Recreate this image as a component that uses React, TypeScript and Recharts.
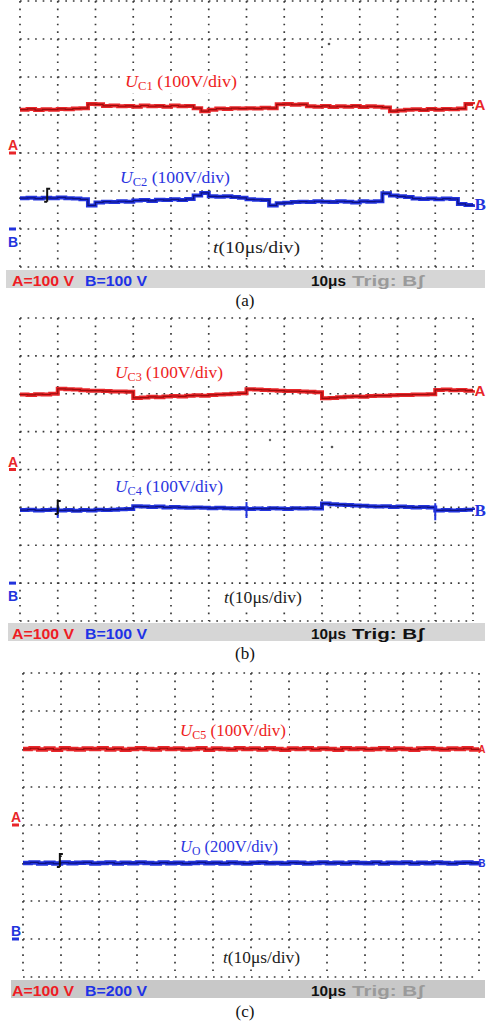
import {
  CartesianGrid,
  Line,
  LineChart,
  ReferenceDot,
  ReferenceLine,
  XAxis,
  YAxis,
} from "recharts";

// sample times in µs (12 div x 10µs)
const timeUs = [
  0, 2, 4, 6, 8, 10, 12, 14, 16, 18, 20, 22, 24, 26, 28, 30, 32, 34, 36, 38,
  40, 42, 44, 46, 48, 50, 52, 54, 56, 58, 60, 62, 64, 66, 68, 70, 72, 74, 76,
  78, 80, 82, 84, 86, 88, 90, 92, 94, 96, 98, 100, 102, 104, 106, 108, 110,
  112, 114, 116, 118, 120,
];
const xTicks = [0, 10, 20, 30, 40, 50, 60, 70, 80, 90, 100, 110, 120];

// (a) volts
const uC1 = [
  114, 116, 113, 115, 114, 116, 115, 117, 118, 129, 128, 124, 125, 123, 124,
  122, 125, 123, 124, 122, 125, 123, 124, 118, 110, 114, 117, 116, 118, 117,
  118, 117, 119, 118, 128, 129, 127, 128, 123, 122, 124, 121, 123, 122, 124,
  121, 123, 122, 120, 110, 112, 114, 115, 113, 116, 114, 116, 115, 117, 129,
  128,
];
const uC2 = [
  81, 82, 80, 82, 81, 83, 81, 80, 78, 62, 70, 72, 71, 73, 72, 75, 76, 74, 77,
  76, 78, 76, 79, 88, 95, 86, 85, 86, 84, 82, 78, 77, 76, 62, 68, 69, 71, 72,
  71, 73, 72, 71, 73, 72, 70, 73, 72, 73, 94, 88, 86, 84, 80, 79, 80, 78, 80,
  79, 66, 63, 65,
];

// (b)
const uC3 = [
  198, 197, 199, 198, 200, 213, 212, 211, 209, 208, 208, 207, 206, 206, 205,
  189, 190, 192, 191, 193, 194, 193, 195, 196, 195, 197, 198, 199, 200, 201,
  212, 211, 210, 209, 208, 207, 207, 206, 205, 204, 188, 189, 191, 192, 193,
  192, 194, 195, 195, 196, 197, 197, 198, 198, 199, 210, 211, 209, 210, 208,
  209,
];
const uC4 = [
  193, 194, 192, 193, 194, 192, 193, 191, 193, 192, 194, 193, 194, 195, 196,
  203, 202, 201, 202, 200, 201, 200, 199, 200, 199, 198, 199, 198, 197, 198,
  196, 197, 196, 198, 197, 196, 198, 197, 198, 197, 210, 208, 207, 206, 205,
  204, 203, 202, 203, 201, 202, 201, 200, 201, 200, 192, 193, 192, 193, 194,
  193,
];
const uC4Spikes = [
  { t: 10, lo: 172, hi: 206 },
  { t: 60, lo: 172, hi: 214 },
  { t: 110, lo: 166, hi: 211 },
];

// (c)
const uC5 = [
  200, 202, 199, 201, 198, 202, 200, 199, 201, 200, 202, 199, 201, 198, 200,
  202, 200, 199, 202, 200, 201, 199, 200, 202, 198, 201, 200, 199, 202, 200,
  201, 199, 202, 200, 198, 201, 200, 202, 199, 201, 200, 198, 202, 200, 201,
  199, 200, 202, 199, 201, 200, 198, 201, 202, 200, 199, 201, 200, 202, 199,
  201,
];
const uO = [
  400, 403, 398, 401, 397, 402, 399, 401, 403, 398, 400, 402, 397, 401, 399,
  403, 400, 398, 402, 399, 401, 397, 400, 403, 399, 401, 398, 402, 400, 397,
  401, 403, 399, 400, 398, 402, 401, 397, 400, 403, 399, 401, 398, 402, 400,
  399, 403, 397, 401, 400, 402, 398, 401, 399, 403, 400, 397, 401, 402, 399,
  400,
];

const RED = "#e8262a";
const RED_CORE = "#9c0c0c";
const BLUE = "#2233dd";
const BLUE_CORE = "#0c1280";
const SERIF = "'Liberation Serif', 'Times New Roman', serif";
const SANS = "'Liberation Sans', Arial, sans-serif";

const GroundMark = ({ viewBox, letter, color, above, below }: any) => {
  if (!viewBox) return null;
  const x = viewBox.x - 11;
  const y = viewBox.y;
  return (
    <g>
      <rect x={x} y={y - 1.5} width={7} height={3} fill={color} />
      <text
        x={x - 1}
        y={above ? y - 3 : y + below}
        fontFamily={SANS}
        fontWeight="bold"
        fontSize={14}
        fill={color}
      >
        {letter}
      </text>
    </g>
  );
};

const TrigMark = (p: any) => (
  <path
    d={`M${p.cx},${p.cy + 4} V${p.cy - 9} H${p.cx + 3} M${p.cx - 3},${p.cy + 4} H${p.cx}`}
    stroke="#111"
    strokeWidth={2}
    fill="none"
  />
);

// letter after the last sample of a trace; smaller when it reaches the edge
const endLabel =
  (n: number, letter: string, color: string, serif: boolean, small: boolean) =>
  (p: any) =>
    p.index === n - 1 ? (
      <text
        x={p.x + (small ? -0.7 : 1.5)}
        y={p.y + (small ? 4 : 6)}
        fontFamily={serif ? SERIF : SANS}
        fontWeight="bold"
        fontSize={serif ? 17 : small ? 10 : 15}
        fill={color}
      >
        {letter}
      </text>
    ) : (
      <g />
    );

const Panel = (props: any) => {
  const data = timeUs.map((t, i) => ({ t, a: props.chA[i], b: props.chB[i] }));
  const n = data.length;
  return (
    <div style={{ position: "absolute", left: 0, top: props.top }}>
      <LineChart
        width={486}
        height={props.height}
        data={data}
        margin={props.margin}
      >
        <XAxis
          dataKey="t"
          type="number"
          domain={[0, 120]}
          ticks={xTicks}
          hide
        />
        <YAxis
          yAxisId="A"
          type="number"
          domain={props.aDomain}
          ticks={props.aTicks}
          allowDataOverflow
          hide
        />
        <YAxis
          yAxisId="B"
          type="number"
          domain={props.bDomain}
          allowDataOverflow
          hide
        />
        <CartesianGrid
          yAxisId="A"
          stroke="#3a3a3a"
          strokeWidth={1.7}
          strokeDasharray={props.dash}
        />
        <ReferenceLine
          yAxisId="A"
          y={0}
          stroke="none"
          label={(p: any) => (
            <GroundMark viewBox={p.viewBox} letter="A" color={RED} above />
          )}
        />
        <ReferenceLine
          yAxisId="B"
          y={0}
          stroke="none"
          label={(p: any) => (
            <GroundMark
              viewBox={p.viewBox}
              letter="B"
              color={BLUE}
              above={props.bAbove}
              below={18}
            />
          )}
        />
        <Line
          yAxisId="A"
          dataKey="a"
          type="stepAfter"
          stroke={RED}
          strokeWidth={props.traceW}
          dot={false}
          isAnimationActive={false}
          label={endLabel(n, "A", RED, false, props.squeeze)}
        />
        <Line
          yAxisId="A"
          dataKey="a"
          type="stepAfter"
          stroke={RED_CORE}
          strokeWidth={1.2}
          dot={false}
          isAnimationActive={false}
        />
        <Line
          yAxisId="B"
          dataKey="b"
          type="stepAfter"
          stroke={BLUE}
          strokeWidth={props.traceW}
          dot={false}
          isAnimationActive={false}
          label={endLabel(n, "B", BLUE, !props.squeeze, props.squeeze)}
        />
        <Line
          yAxisId="B"
          dataKey="b"
          type="stepAfter"
          stroke={BLUE_CORE}
          strokeWidth={1.2}
          dot={false}
          isAnimationActive={false}
        />
        {(props.spikes || []).map((s: any) => (
          <ReferenceLine
            key={s.t}
            yAxisId="B"
            segment={[
              { x: s.t, y: s.lo },
              { x: s.t, y: s.hi },
            ]}
            stroke={BLUE}
            strokeWidth={2}
          />
        ))}
        <ReferenceDot
          yAxisId="B"
          x={props.trig[0]}
          y={props.trig[1]}
          r={3}
          shape={TrigMark}
        />
      </LineChart>
    </div>
  );
};

// the scope labels sit on a white patch that hides the grid dots behind them
const TraceLabel = ({ x, y, w, sub, rest, color }: any) => (
  <g>
    <rect x={x - 3} y={y - 15} width={w + 6} height={21} fill="#fff" />
    <text
      x={x}
      y={y}
      fontFamily={SERIF}
      fontSize={17}
      fill={color}
      textLength={w}
      lengthAdjust="spacingAndGlyphs"
    >
      <tspan fontStyle="italic">U</tspan>
      <tspan fontSize={12} dy={3}>
        {sub}
      </tspan>
      <tspan dy={-3}>{rest}</tspan>
    </text>
  </g>
);

const TimeLabel = ({ x, y, w }: any) => (
  <g>
    <rect x={x - 3} y={y - 14} width={w + 6} height={19} fill="#fff" />
    <text
      x={x}
      y={y}
      fontFamily={SERIF}
      fontSize={16}
      fill="#222"
      textLength={w}
      lengthAdjust="spacingAndGlyphs"
    >
      <tspan fontStyle="italic">t</tspan>(10μs/div)
    </text>
  </g>
);

const StatusBar = ({ x, y, w, fill, bScale, trigColor }: any) => (
  <g fontFamily={SANS} fontWeight="bold" fontSize={15}>
    <rect x={x} y={y} width={w} height={18} fill={fill} />
    <text x={12} y={y + 16} fill="#ee1c24" textLength={62} lengthAdjust="spacingAndGlyphs">
      A=100 V
    </text>
    <text x={85} y={y + 16} fill="#1e32e6" textLength={62} lengthAdjust="spacingAndGlyphs">
      {`B=${bScale} V`}
    </text>
    <text x={311} y={y + 16} fill="#111" textLength={35} lengthAdjust="spacingAndGlyphs">
      10μs
    </text>
    <text x={352} y={y + 16} fill={trigColor} textLength={72} lengthAdjust="spacingAndGlyphs">
      Trig: Bʃ
    </text>
  </g>
);

export default function App() {
  return (
    <div
      style={{
        position: "absolute",
        left: 0,
        top: 0,
        width: 486,
        height: 1022,
        background: "#fff",
      }}
    >
      <Panel
        top={0}
        height={272}
        margin={{ top: 1, right: 13, bottom: 5, left: 20 }}
        chA={uC1}
        chB={uC2}
        aDomain={[-300, 400]}
        aTicks={[-300, -200, -100, 0, 100, 200, 300, 400]}
        bDomain={[-100, 600]}
        bAbove={false}
        dash="1.7 5.85"
        traceW={4}
        trig={[7.2, 82]}
      />
      <Panel
        top={310}
        height={315}
        margin={{ top: 8, right: 13, bottom: 4, left: 20 }}
        chA={uC3}
        chB={uC4}
        aDomain={[-400, 400]}
        aTicks={[-400, -300, -200, -100, 0, 100, 200, 300, 400]}
        bDomain={[-100, 700]}
        bAbove={false}
        dash="1.7 5.85"
        traceW={4}
        spikes={uC4Spikes}
        trig={[10, 193]}
      />
      <Panel
        top={665}
        height={315}
        margin={{ top: 8, right: 7, bottom: 3, left: 23 }}
        chA={uC5}
        chB={uO}
        aDomain={[-400, 400]}
        aTicks={[-400, -300, -200, -100, 0, 100, 200, 300, 400]}
        bDomain={[-200, 1400]}
        bAbove={true}
        dash="1.7 5.9"
        traceW={4.5}
        squeeze
        trig={[9.7, 400]}
      />
      <svg
        width={486}
        height={1022}
        style={{ position: "absolute", left: 0, top: 0, pointerEvents: "none" }}
      >
        <TraceLabel x={125} y={87} w={112} sub="C1" rest=" (100V/div)" color="#ee2222" />
        <TraceLabel x={120} y={183} w={110} sub="C2" rest=" (100V/div)" color="#2b35e0" />
        <TimeLabel x={213} y={253} w={87} />
        <circle cx={329} cy={44} r={1.3} fill="#555" />
        <StatusBar x={6} y={270} w={479} fill="#d6d6d6" bScale="100" trigColor="#9a9a9a" />
        <text x={245} y={306} fontFamily={SERIF} fontSize={17} textAnchor="middle" fill="#111">
          (a)
        </text>

        <TraceLabel x={115} y={378} w={108} sub="C3" rest=" (100V/div)" color="#ee2222" />
        <TraceLabel x={115} y={492} w={108} sub="C4" rest=" (100V/div)" color="#2b35e0" />
        <TimeLabel x={224} y={603} w={78} />
        <circle cx={270} cy={440} r={1.2} fill="#666" />
        <circle cx={332} cy={447} r={1.3} fill="#555" />
        <StatusBar x={8} y={623} w={477} fill="#d6d6d6" bScale="100" trigColor="#111" />
        <text x={245} y={659} fontFamily={SERIF} fontSize={17} textAnchor="middle" fill="#111">
          (b)
        </text>

        <TraceLabel x={180} y={736} w={106} sub="C5" rest=" (100V/div)" color="#ee2222" />
        <TraceLabel x={180} y={852} w={98} sub="O" rest=" (200V/div)" color="#2b35e0" />
        <TimeLabel x={223} y={963} w={77} />
        <StatusBar x={11} y={980} w={474} fill="#c8c8c8" bScale="200" trigColor="#9a9a9a" />
        <text x={245} y={1017} fontFamily={SERIF} fontSize={17} textAnchor="middle" fill="#111">
          (c)
        </text>
      </svg>
    </div>
  );
}
